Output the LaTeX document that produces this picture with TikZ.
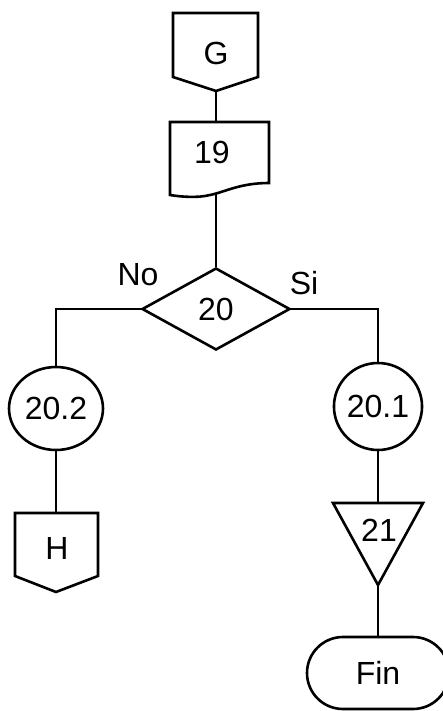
\documentclass[tikz,border=0pt]{standalone}
\usepackage{fontspec}
\setmainfont{Liberation Sans}
\usetikzlibrary{shapes.geometric}
\begin{document}
\begin{tikzpicture}[x=1pt,y=-1pt,line width=2.6pt,
  lbl/.style={font=\fontsize{32}{38}\selectfont, inner sep=0pt},
  shp/.style={draw, line width=2.6pt},
  conn/.style={draw, line width=2.6pt}]
\useasboundingbox (0,0) rectangle (443,711);
\clip (0,0) rectangle (443,711);
% off-page connector G
\draw[shp] (173,13) -- (258,13) -- (258,77) -- (216,91) coordinate (Gb) -- (173,77) -- cycle;
\node[lbl] (G) at (216,53) {G};
% document 19
\draw[shp] (170,122) -- (216,122) coordinate (Dt) -- (269,122) -- (269,183)
  .. controls (240,183) and (225,192) .. (210,195)
  .. controls (198,198) and (182,197) .. (170,195) -- cycle;
\coordinate (Db) at (216,194);
\node[lbl] (n19) at (212,152) {19};
% decision 20
\node[shp, diamond, minimum width=148pt, minimum height=82pt, inner sep=0pt, lbl] (d20) at (216,309) {20};
\node[lbl] (no) at (138,275) {No};
\node[lbl] (si) at (304,283) {Si};
% circles
\node[shp, ellipse, minimum width=94pt, minimum height=83pt, inner sep=0pt, lbl] (c202) at (56,408.5) {20.2};
\node[shp, ellipse, minimum width=88pt, minimum height=87pt, inner sep=0pt, lbl] (c201) at (378,406.5) {20.1};
% off-page connector H
\draw[shp] (15,513) -- (56,513) coordinate (Ht) -- (98,513) -- (98,576) -- (56,592) -- (15,576) -- cycle;
\node[lbl] (H) at (57,548) {H};
% triangle 21
\draw[shp] (333,503) -- (378,503) coordinate (Tt) -- (423,503) -- (378,585) coordinate (Tb) -- cycle;
\node[lbl] (n21) at (379,530) {21};
% terminator
\node[shp, rounded corners=36pt, minimum width=142pt, minimum height=72pt, inner sep=0pt, lbl] (fin) at (378,673) {Fin};
% connectors
\draw[conn] (Gb) -- (Dt);
\draw[conn] (Db) -- (d20.north);
\draw[conn] (d20.west) -| (c202.north);
\draw[conn] (d20.east) -| (c201.north);
\draw[conn] (c202.south) -- (Ht);
\draw[conn] (c201.south) -- (Tt);
\draw[conn] (Tb) -- (fin.north);
\end{tikzpicture}
\end{document}
